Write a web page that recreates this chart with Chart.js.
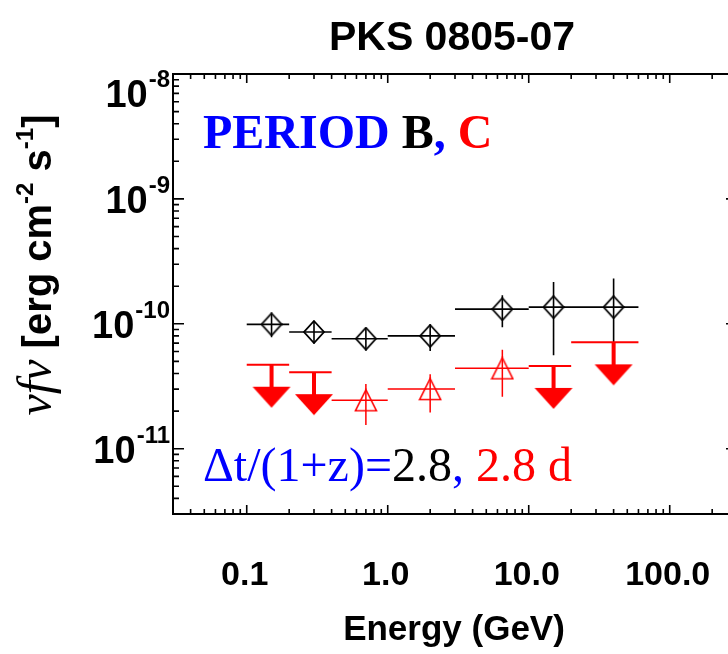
<!DOCTYPE html>
<html>
<head>
<meta charset="utf-8">
<script src="https://cdn.jsdelivr.net/npm/chart.js@4.4.0/dist/chart.umd.min.js"></script>
<style>
html, body { margin: 0; padding: 0; background: #fff; overflow: hidden; }
#wrap { width: 760px; height: 654px; position: relative; }
</style>
</head>
<body>
<div id="wrap"><canvas id="sedChart"></canvas></div>
<script>
// energy bins (GeV)
const binLo  = [0.1, 0.2, 0.4, 1.0, 3.0, 10, 20];
const binHi  = [0.2, 0.4, 1.0, 3.0, 10, 20, 60];
const binMid = [0.15, 0.3, 0.7, 2.0, 6.5, 15, 40];

// period B (black diamonds)
const fluxB   = [9.9e-11, 8.6e-11, 7.6e-11, 8.0e-11, 1.31e-10, 1.36e-10, 1.36e-10];
const fluxBHi = [1.21e-10, 1.05e-10, 9.3e-11, 9.9e-11, 1.69e-10, 2.16e-10, 2.31e-10];
const fluxBLo = [7.8e-11, 6.95e-11, 6.2e-11, 6.05e-11, 9.4e-11, 5.6e-11, 7.0e-11];

// period C (red) - detections, null where only an upper limit
const fluxC   = [null, null, 2.44e-11, 3.0e-11, 4.4e-11, null, null];
const fluxCHi = [null, null, 3.3e-11, 3.95e-11, 6.2e-11, null, null];
const fluxCLo = [null, null, 1.55e-11, 1.95e-11, 2.6e-11, null, null];
const ulC     = [4.7e-11, 4.1e-11, null, null, null, 4.6e-11, 7.1e-11];

// axis ticks
const xTicks = [0.1, 1, 10, 100];
const xTickLabels = ["0.1", "1.0", "10.0", "100.0"];
const yTicks = [1e-8, 1e-9, 1e-10, 1e-11];
const yTickExp = ["-8", "-9", "-10", "-11"];

// segments separated by a gap point
function hSegs(lo, hi, y) {
    const out = [];
    y.forEach((v, i) => {
        if (v == null) return;
        out.push({ x: lo[i], y: v }, { x: hi[i], y: v }, { x: hi[i], y: null });
    });
    return out;
}
function vSegs(x, lo, hi) {
    const out = [];
    x.forEach((v, i) => {
        if (lo[i] == null) return;
        out.push({ x: v, y: lo[i] }, { x: v, y: hi[i] }, { x: v, y: null });
    });
    return out;
}
function pts(x, y) {
    const out = [];
    x.forEach((v, i) => { if (y[i] != null) out.push({ x: v, y: y[i] }); });
    return out;
}

function makeMarker(w, h, draw) {
    const c = document.createElement("canvas");
    c.width = w; c.height = h;
    draw(c.getContext("2d"), w, h);
    return c;
}
const diamond = makeMarker(22, 24, (g, w, h) => {
    g.strokeStyle = "#000"; g.lineWidth = 1.8;
    g.beginPath();
    g.moveTo(w / 2, 1); g.lineTo(w - 1, h / 2); g.lineTo(w / 2, h - 1); g.lineTo(1, h / 2);
    g.closePath(); g.stroke();
});
const triangle = makeMarker(24, 24, (g, w, h) => {
    g.strokeStyle = "#f00"; g.lineWidth = 1.6;
    g.beginPath();
    g.moveTo(w / 2, 1.5); g.lineTo(w - 1.5, h - 1.5); g.lineTo(1.5, h - 1.5);
    g.closePath(); g.stroke();
});
// arrow hangs below the point, so it sits in the lower half
const arrow = makeMarker(40, 88, (g, w, h) => {
    g.fillStyle = "#f00";
    g.fillRect(w / 2 - 2, h / 2, 4, 23);
    g.beginPath();
    g.moveTo(1, h / 2 + 22); g.lineTo(w - 1, h / 2 + 22); g.lineTo(w / 2, h / 2 + 43);
    g.closePath(); g.fill();
});

function seg(data, color, width) {
    return { data: data, showLine: true, borderColor: color, borderWidth: width,
             pointRadius: 0, pointHoverRadius: 0, spanGaps: false };
}
function marks(data, style) {
    return { data: data, showLine: false, pointStyle: style, pointRadius: 5, pointHoverRadius: 5 };
}

function drawParts(ctx, parts, x, y) {
    let cx = x;
    parts.forEach(p => {
        ctx.font = p.font;
        ctx.fillStyle = p.color || "#000";
        ctx.fillText(p.text, cx, y + (p.dy || 0));
        cx += ctx.measureText(p.text).width;
    });
    return cx;
}
function partsWidth(ctx, parts) {
    let w = 0;
    parts.forEach(p => { ctx.font = p.font; w += ctx.measureText(p.text).width; });
    return w;
}

const SANS = "'Liberation Sans', Arial, sans-serif";
const SERIF = "'Liberation Serif', 'Times New Roman', serif";

const frame = {
    id: "frame",
    afterDraw(chart) {
        const ctx = chart.ctx;
        const a = chart.chartArea;
        const xs = chart.scales.x, ys = chart.scales.y;
        ctx.save();
        ctx.strokeStyle = "#000";
        ctx.lineWidth = 2;
        ctx.strokeRect(a.left, a.top, a.right - a.left, a.bottom - a.top);

        // log ticks, pointing in
        ctx.lineWidth = 1.6;
        ctx.beginPath();
        for (let k = -3; k <= 3; k++) {
            for (let m = 1; m <= 9; m++) {
                const v = m * Math.pow(10, k);
                if (v >= xs.min && v <= xs.max) {
                    const px = xs.getPixelForValue(v);
                    const len = m === 1 ? 9 : 5;
                    ctx.moveTo(px, a.bottom); ctx.lineTo(px, a.bottom - len);
                    ctx.moveTo(px, a.top); ctx.lineTo(px, a.top + len);
                }
            }
        }
        for (let k = -13; k <= -7; k++) {
            for (let m = 1; m <= 9; m++) {
                const v = m * Math.pow(10, k);
                if (v >= ys.min * 0.999 && v <= ys.max * 1.001) {
                    const py = ys.getPixelForValue(v);
                    const len = m === 1 ? 11 : 6;
                    ctx.moveTo(a.left, py); ctx.lineTo(a.left + len, py);
                    ctx.moveTo(a.right, py); ctx.lineTo(a.right - len, py);
                }
            }
        }
        ctx.stroke();

        // tick labels
        ctx.fillStyle = "#000";
        ctx.textBaseline = "alphabetic";
        ctx.textAlign = "center";
        ctx.font = "bold 34px " + SANS;
        xTicks.forEach((v, i) => {
            ctx.fillText(xTickLabels[i], xs.getPixelForValue(v) - 2, 585);
        });
        ctx.textAlign = "right";
        yTicks.forEach((v, i) => {
            const py = Math.max(ys.getPixelForValue(v), a.top + 19);
            ctx.font = "bold 24px " + SANS;
            ctx.fillText(yTickExp[i], 170, py - 6);
            const ew = ctx.measureText(yTickExp[i]).width;
            ctx.font = "bold 38px " + SANS;
            ctx.fillText("10", 170 - ew - 1, py + 14);
        });

        // titles
        ctx.textAlign = "center";
        ctx.font = "bold 41px " + SANS;
        ctx.fillText("PKS 0805-07", (a.left + a.right) / 2 - 3, 50);
        ctx.font = "bold 35px " + SANS;
        ctx.fillText("Energy (GeV)", (a.left + a.right) / 2 - 1, 640);

        // y title, rotated
        ctx.textAlign = "left";
        const sans = "bold 40px " + SANS;
        const sup = "bold 24px " + SANS;
        const yParts = [
            { text: "\u03bdf\u03bd", font: "italic 48px " + SERIF },
            { text: " [erg cm", font: sans },
            { text: "-2", font: sup, dy: -18 },
            { text: " s", font: sans },
            { text: "-1", font: sup, dy: -18 },
            { text: "]", font: sans }
        ];
        const tw = partsWidth(ctx, yParts);
        ctx.save();
        ctx.translate(51, 265);
        ctx.rotate(-Math.PI / 2);
        drawParts(ctx, yParts, -tw / 2, 0);
        ctx.restore();

        // annotations
        const serifB = "bold 48px " + SERIF;
        drawParts(ctx, [
            { text: "PERIOD ", font: serifB, color: "#0000ff" },
            { text: "B", font: serifB, color: "#000" },
            { text: ",", font: serifB, color: "#0000ff" },
            { text: " C", font: serifB, color: "#ff0000" }
        ], 203, 148);
        const serif = "48px " + SERIF;
        drawParts(ctx, [
            { text: "\u0394t/(1+z)=", font: serif, color: "#0000ff" },
            { text: "2.8", font: serif, color: "#000" },
            { text: ",", font: serif, color: "#0000ff" },
            { text: " 2.8 d", font: serif, color: "#ff0000" }
        ], 203, 481);
        ctx.restore();
    }
};

const ctx = document.getElementById("sedChart").getContext("2d");
new Chart(ctx, {
    type: "scatter",
    data: {
        datasets: [
            seg(hSegs(binLo, binHi, ulC), "#f00", 2),
            marks(pts(binMid, ulC), arrow),
            seg(hSegs(binLo, binHi, fluxC), "#f00", 1.5),
            seg(vSegs(binMid, fluxCLo, fluxCHi), "#f00", 1.5),
            marks(pts(binMid, fluxC), triangle),
            seg(hSegs(binLo, binHi, fluxB), "#000", 1.6),
            seg(vSegs(binMid, fluxBLo, fluxBHi), "#000", 1.6),
            marks(pts(binMid, fluxB), diamond)
        ]
    },
    options: {
        responsive: true,
        maintainAspectRatio: false,
        animation: false,
        events: [],
        layout: { padding: { left: 173, right: 23, top: 74, bottom: 140 } },
        plugins: { legend: { display: false }, tooltip: { enabled: false } },
        scales: {
            x: { type: "logarithmic", min: 0.03, max: 300, display: false },
            y: { type: "logarithmic", min: 3e-12, max: 1e-8, display: false }
        }
    },
    plugins: [frame]
});
</script>
</body>
</html>
